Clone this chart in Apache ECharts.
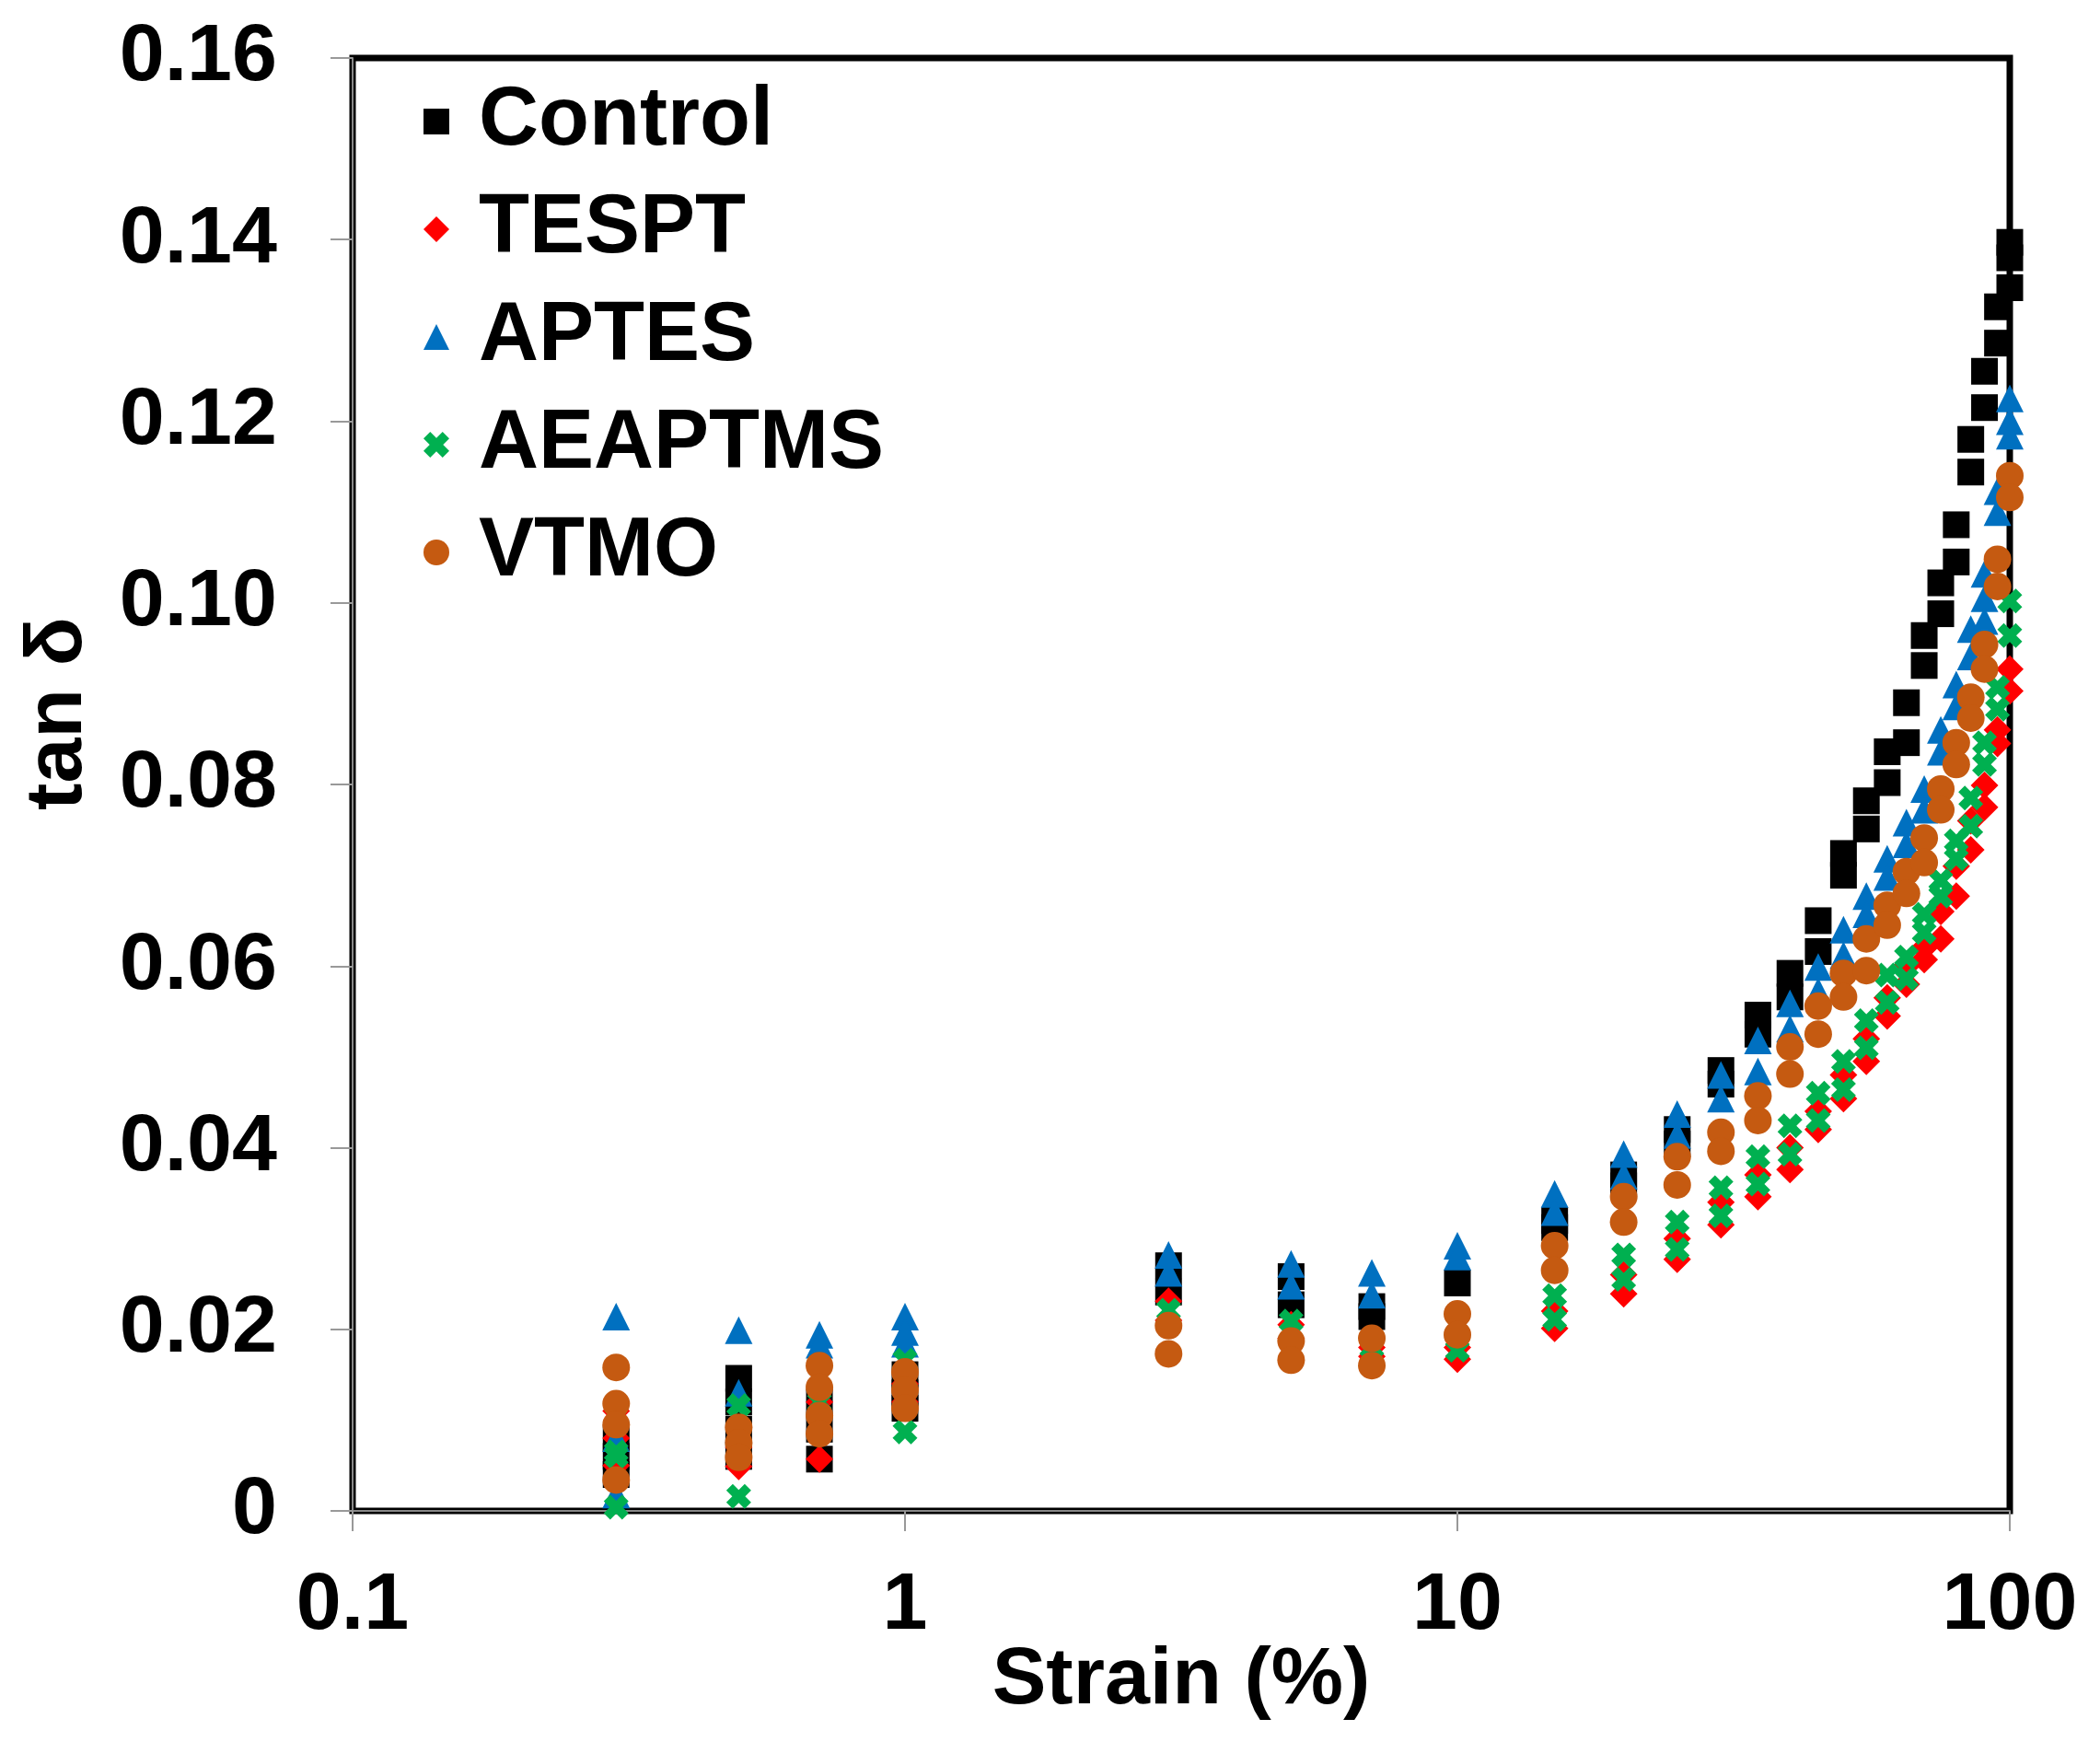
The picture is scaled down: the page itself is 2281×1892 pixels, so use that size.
<!DOCTYPE html>
<html>
<head>
<meta charset="utf-8">
<script src="https://cdn.jsdelivr.net/npm/echarts@6/dist/echarts.min.js"></script>
<style>
html,body{margin:0;padding:0;background:#fff;}
#chart{width:2281px;height:1892px;}
</style>
</head>
<body>
<div id="chart"></div>
<script>
// Strain values (%)
const strain = [0.3,0.5,0.7,1,3,5,7,10,15,20,25,30,35,40,45,50,55,60,65,70,75,80,85,90,95,100];

// tan delta readings at each strain (several repeated readings per strain)
const control = [
  [0.004,0.006,0.008],[0.0146,0.012,0.009,0.006],[0.0057,0.009,0.012],[0.0113,0.013,0.015],
  [0.027,0.0241],[0.0258,0.0227],[0.0225,0.0214],[0.0251],
  [0.032,0.0312],[0.037,0.0358],[0.042,0.0404],[0.0485,0.047],[0.0546,0.0525],[0.0592,0.0566],
  [0.065,0.0616],[0.0724,0.070],[0.0782,0.0751],[0.0836,0.0802],[0.089,0.0846],[0.0964,0.0931],
  [0.1022,0.0988],[0.1086,0.1045],[0.118,0.1144],[0.1255,0.1215],[0.1326,0.1286],[0.1397,0.138,0.1347]
];
const tespt = [
  [0.011,0.008,0.005],[0.0049,0.007],[0.0057,0.0085,0.012],[0.012,0.014],
  [0.0231,0.021],[0.0205,0.019],[0.018,0.017],[0.0167,0.018],
  [0.0201,0.022],[0.0239,0.026],[0.0277,0.030],[0.0315,0.034],[0.0346,0.037],[0.0376,0.040],
  [0.042,0.044],[0.0454,0.048],[0.0495,0.052],[0.0545,0.0565],[0.058,0.060],[0.0607,0.062],
  [0.063,0.066],[0.0677,0.071],[0.0728,0.076],[0.0775,0.0799],[0.0845,0.086],[0.0903,0.0927]
];
const aptes = [
  [0.0214,0.008,0.0018],[0.0199,0.013,0.009],[0.0194,0.0183],[0.0214,0.0197,0.0184],
  [0.0282,0.0262],[0.0272,0.0248],[0.0262,0.0238],[0.0292,0.028],
  [0.0349,0.0329],[0.0393,0.0369],[0.0437,0.0414],[0.048,0.0454],[0.0518,0.0484],[0.0559,0.0531],
  [0.0599,0.0572],[0.064,0.0612],[0.0677,0.0657],[0.0718,0.0698],[0.0758,0.0734],[0.0795,0.0772],
  [0.086,0.0836],[0.091,0.0886],[0.0971,0.0941],[0.1032,0.1005,0.098],[0.1123,0.110],[0.1225,0.120,0.1184]
];
const aeaptms = [
  [0.0065,0.006,0.0004],[0.0116,0.0016],[0.012],[0.0166,0.0087],
  [0.0221],[0.0209],[0.018],[0.0177],
  [0.0237,0.0211],[0.0282,0.0255],[0.0318,0.0288],[0.0356,0.0325],[0.039,0.036],[0.0424,0.0393],
  [0.046,0.043],[0.0495,0.0464],[0.054,0.051],[0.059,0.056],[0.061,0.0586],[0.0657,0.0637],
  [0.0694,0.0677],[0.0738,0.0718],[0.0785,0.0754],[0.0846,0.0822],[0.0907,0.0883],[0.1002,0.0964]
];
const vtmo = [
  [0.0158,0.0118,0.0095,0.0034],[0.0092,0.0075,0.0059],[0.016,0.0136,0.0105,0.0085],[0.0153,0.0133,0.0113],
  [0.0204,0.0173],[0.0187,0.0166],[0.019,0.016],[0.0217,0.0194],
  [0.0292,0.0265],[0.0346,0.0318],[0.039,0.0359],[0.0417,0.0396],[0.0457,0.043],[0.0511,0.0481],
  [0.0556,0.0525],[0.0592,0.0566],[0.063,0.0595],[0.0667,0.0645],[0.0704,0.068],[0.0741,0.0714],
  [0.0795,0.0772],[0.0846,0.0822],[0.0896,0.0873],[0.0954,0.0927],[0.1048,0.1018],[0.114,0.1116]
];

const seriesNames = ['Control','TESPT','APTES','AEAPTMS','VTMO'];
const seriesColors = ['#000000','#FF0000','#0070C0','#00B050','#C55A11'];
const xTickLabels = ['0.1','1','10','100'];

const xMark = 'path://M2.6,0 L5,2.4 L7.4,0 L10,2.6 L7.6,5 L10,7.4 L7.4,10 L5,7.6 L2.6,10 L0,7.4 L2.4,5 L0,2.6 Z';
const symbols = ['rect','diamond','triangle',xMark,'circle'];
const sizes = [29,30,30,27,30];

function toPoints(arr){
  const pts = [];
  arr.forEach((vals,i)=>vals.forEach(v=>pts.push([strain[i], v])));
  return pts;
}
const allData = [control,tespt,aptes,aeaptms,vtmo];

const FONT = '"Liberation Sans", Arial, sans-serif';

const chart = echarts.init(document.getElementById('chart'));
chart.setOption({
  animation:false,
  backgroundColor:'#ffffff',
  grid:{left:383,right:98,top:63,bottom:251,show:true,borderColor:'#000',borderWidth:7,backgroundColor:'transparent'},
  legend:{
    orient:'vertical',left:460,top:82,padding:0,itemGap:17,
    itemWidth:28,itemHeight:28,
    data:seriesNames,
    textStyle:{fontFamily:FONT,fontWeight:'bold',fontSize:90,color:'#000',lineHeight:100,padding:[0,0,0,27]}
  },
  xAxis:{
    type:'log',logBase:10,min:0.1,max:100,
    axisLine:{show:true,lineStyle:{color:'#888',width:2}},
    axisTick:{show:true,length:22,lineStyle:{color:'#999',width:2}},
    splitLine:{show:false},
    minorTick:{show:false},
    axisLabel:{fontFamily:FONT,fontWeight:'bold',fontSize:88,color:'#000',margin:60,
      formatter:function(v){
        const idx = Math.round(Math.log10(v)) + 1;
        return xTickLabels[idx] !== undefined ? xTickLabels[idx] : '';
      }}
  },
  yAxis:{
    type:'value',min:0,max:0.16,interval:0.02,
    axisLine:{show:true,lineStyle:{color:'#888',width:2}},
    axisTick:{show:true,length:24,lineStyle:{color:'#999',width:2}},
    splitLine:{show:false},
    axisLabel:{fontFamily:FONT,fontWeight:'bold',fontSize:88,color:'#000',margin:82,
      formatter:function(v){ return v===0 ? '0' : v.toFixed(2); }}
  },
  graphic:[
    {type:'text',x:1283,y:1782,
      style:{text:'Strain (%)',font:'bold 88px "Liberation Sans", Arial, sans-serif',fill:'#000',align:'center',verticalAlign:'top'}},
    {type:'text',x:20,y:775,rotation:Math.PI/2,
      style:{text:'tan δ',font:'bold 88px "Liberation Sans", Arial, sans-serif',fill:'#000',align:'center',verticalAlign:'top'}}
  ],
  series: seriesNames.map((name,i)=>({
    name:name,type:'scatter',
    symbol:symbols[i],symbolSize:sizes[i],
    itemStyle:{color:seriesColors[i],opacity:1},
    data:toPoints(allData[i]),
    clip:false,
    z:2+i
  }))
});
</script>
</body>
</html>
